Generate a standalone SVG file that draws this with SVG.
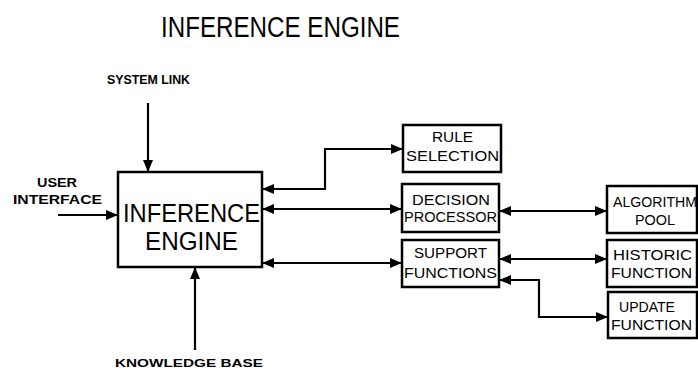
<svg xmlns="http://www.w3.org/2000/svg" width="698" height="372" viewBox="0 0 698 372">
<style>
text{font-family:"Liberation Sans","DejaVu Sans",sans-serif;fill:#000}
.lbl{font-size:12px;font-weight:bold}
.bt{font-size:14px}
.big{font-size:26px}
.box{fill:#fff;stroke:#000;stroke-width:2.5}
.con{fill:none;stroke:#000;stroke-width:2.2}
</style>
<defs>
<marker id="ah" markerUnits="userSpaceOnUse" markerWidth="12" markerHeight="10" refX="11" refY="5" orient="auto-start-reverse">
<path d="M0,0 L12,5 L0,10 Z" fill="#000"/>
</marker>
</defs>
<rect width="698" height="372" fill="#fff"/>
<text x="161" y="37" style="font-size:30px" textLength="239" lengthAdjust="spacingAndGlyphs">INFERENCE ENGINE</text>

<g id="system-link"><text class="lbl" x="107" y="84" textLength="83" lengthAdjust="spacingAndGlyphs">SYSTEM LINK</text></g>
<g id="user-interface">
<text class="lbl" x="37" y="187" textLength="40" lengthAdjust="spacingAndGlyphs">USER</text>
<text class="lbl" x="13" y="204" textLength="89" lengthAdjust="spacingAndGlyphs">INTERFACE</text>
</g>
<g id="knowledge-base"><text class="lbl" x="115" y="367" style="font-size:11px" textLength="148" lengthAdjust="spacingAndGlyphs">KNOWLEDGE BASE</text></g>

<g id="inference-engine">
<rect class="box" x="118" y="172" width="144" height="95"/>
<text class="big" x="123" y="222" textLength="137" lengthAdjust="spacingAndGlyphs">INFERENCE</text>
<text class="big" x="145" y="250" textLength="93" lengthAdjust="spacingAndGlyphs">ENGINE</text>
</g>

<g id="rule-selection">
<rect class="box" x="403" y="125" width="98" height="47"/>
<text class="bt" x="432" y="142" textLength="41" lengthAdjust="spacingAndGlyphs">RULE</text>
<text class="bt" x="406" y="161" textLength="93" lengthAdjust="spacingAndGlyphs">SELECTION</text>
</g>
<g id="decision-processor">
<rect class="box" x="402" y="184" width="97" height="48"/>
<text class="bt" x="412" y="205" textLength="78" lengthAdjust="spacingAndGlyphs">DECISION</text>
<text class="bt" x="404" y="222" textLength="93" lengthAdjust="spacingAndGlyphs">PROCESSOR</text>
</g>
<g id="support-functions">
<rect class="box" x="402" y="240" width="97" height="47"/>
<text class="bt" x="414" y="258" textLength="73" lengthAdjust="spacingAndGlyphs">SUPPORT</text>
<text class="bt" x="404" y="278" textLength="93" lengthAdjust="spacingAndGlyphs">FUNCTIONS</text>
</g>
<g id="algorithm-pool">
<rect class="box" x="607" y="186" width="90" height="47"/>
<text class="bt" x="613" y="207" textLength="84" lengthAdjust="spacingAndGlyphs">ALGORITHM</text>
<text class="bt" x="635" y="225" textLength="40" lengthAdjust="spacingAndGlyphs">POOL</text>
</g>
<g id="historic-function">
<rect class="box" x="607" y="240" width="90" height="47"/>
<text class="bt" x="613" y="260" textLength="79" lengthAdjust="spacingAndGlyphs">HISTORIC</text>
<text class="bt" x="611" y="278" textLength="81" lengthAdjust="spacingAndGlyphs">FUNCTION</text>
</g>
<g id="update-function">
<rect class="box" x="608" y="292" width="89" height="46"/>
<text class="bt" x="619" y="312" textLength="56" lengthAdjust="spacingAndGlyphs">UPDATE</text>
<text class="bt" x="611" y="330" textLength="81" lengthAdjust="spacingAndGlyphs">FUNCTION</text>
</g>

<g id="connectors">
<path class="con" d="M148,103 V171" marker-end="url(#ah)"/>
<path class="con" d="M58,215 H117" marker-end="url(#ah)"/>
<path class="con" d="M195,350 V268" marker-end="url(#ah)"/>
<path class="con" d="M263,189 H325 V149 H402" marker-start="url(#ah)" marker-end="url(#ah)"/>
<path class="con" d="M263,209 H401" marker-start="url(#ah)" marker-end="url(#ah)"/>
<path class="con" d="M263,263 H401" marker-start="url(#ah)" marker-end="url(#ah)"/>
<path class="con" d="M500,211 H606" marker-start="url(#ah)" marker-end="url(#ah)"/>
<path class="con" d="M500,259 H606" marker-start="url(#ah)" marker-end="url(#ah)"/>
<path class="con" d="M500,280 H539 V317 H607" marker-start="url(#ah)" marker-end="url(#ah)"/>
</g>
</svg>
